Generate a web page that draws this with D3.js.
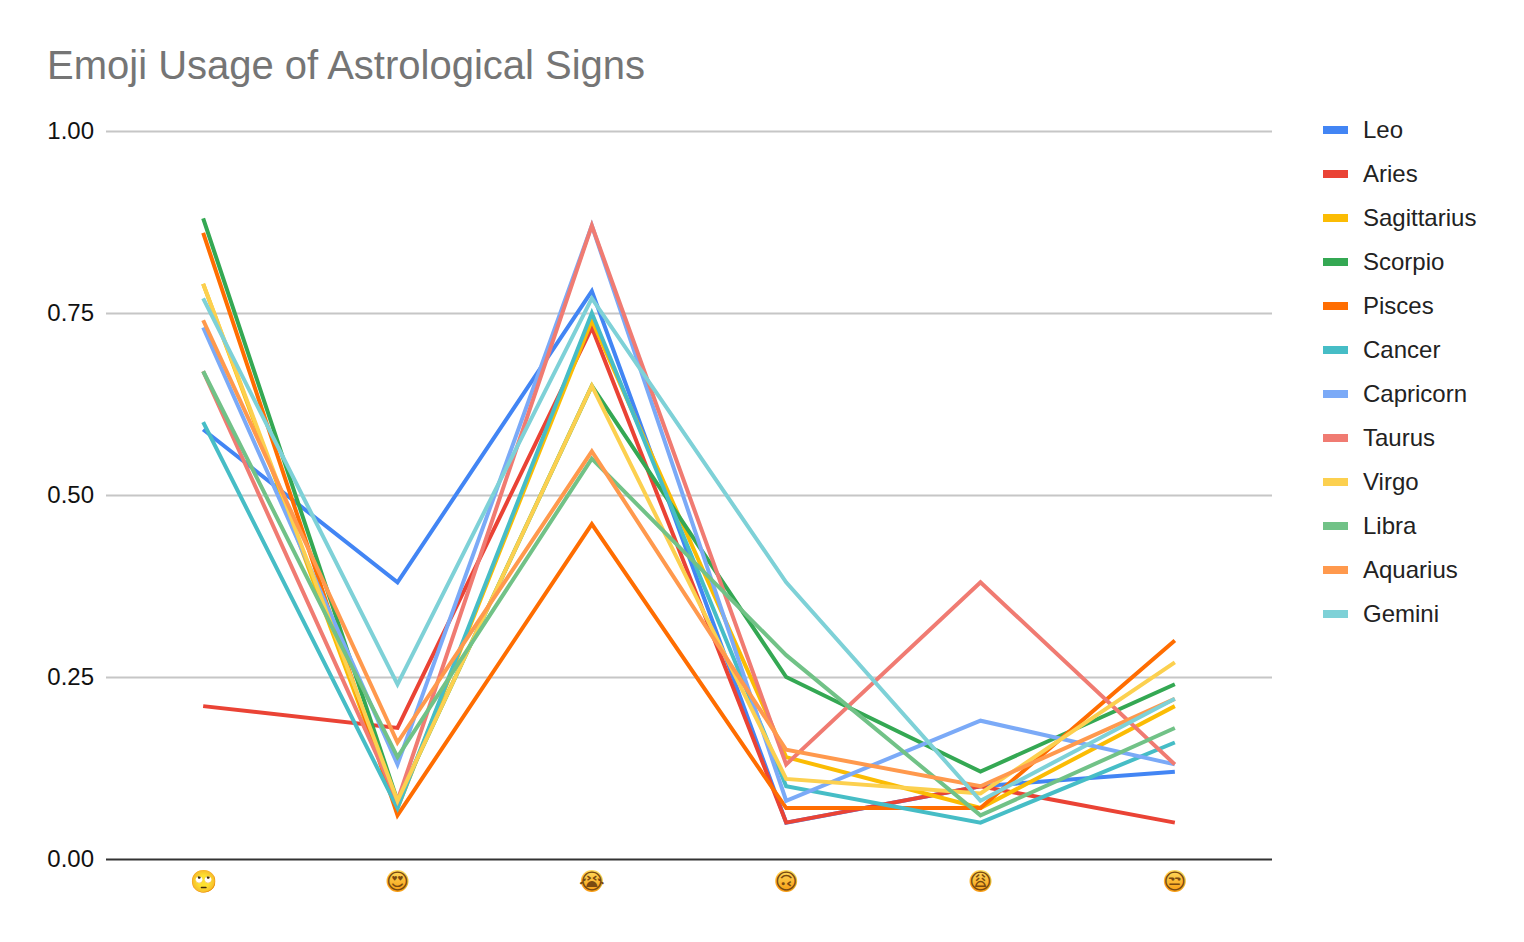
<!DOCTYPE html>
<html><head><meta charset="utf-8">
<script src="https://cdn.jsdelivr.net/npm/d3@7"></script>
<style>html,body{margin:0;background:#fff}svg{display:block}text{font-family:"Liberation Sans",Arial,sans-serif}</style>
</head><body><svg id="c" width="1524" height="942"></svg>
<script>
const categories=["🙄","😍","😭","🙃","😩","😒"];
const signs=["Leo","Aries","Sagittarius","Scorpio","Pisces","Cancer","Capricorn","Taurus","Virgo","Libra","Aquarius","Gemini"];
const colors=["#4285f4","#ea4335","#fbbc04","#34a853","#ff6d01","#46bdc6","#7baaf7","#f07b72","#fcd04f","#71c287","#ff994d","#7ed1d7"];
const leo=[.59,.38,.78,.05,.10,.12];
const aries=[.21,.18,.73,.05,.10,.05];
const sagittarius=[.79,.07,.74,.14,.07,.21];
const scorpio=[.88,.08,.65,.25,.12,.24];
const pisces=[.86,.06,.46,.07,.07,.30];
const cancer=[.60,.07,.75,.10,.05,.16];
const capricorn=[.73,.13,.87,.08,.19,.13];
const taurus=[.67,.08,.87,.13,.38,.13];
const virgo=[.79,.08,.65,.11,.09,.27];
const libra=[.67,.14,.55,.28,.06,.18];
const aquarius=[.74,.16,.56,.15,.10,.22];
const gemini=[.77,.24,.77,.38,.08,.22];
const seriesValues=[leo,aries,sagittarius,scorpio,pisces,cancer,capricorn,taurus,virgo,libra,aquarius,gemini];
const yTicks=[0,.25,.5,.75,1];

const svg=d3.select("#c");
const x=d3.scaleBand().domain(categories).range([106,1272]);
const y=d3.scaleLinear().domain([0,1]).range([859,131]);
const cx=c=>x(c)+x.bandwidth()/2;

svg.append("text").attr("x",47).attr("y",79).attr("font-size",40).attr("fill","#757575").text("Emoji Usage of Astrological Signs");

const ya=svg.append("g").attr("transform","translate(106,0)").call(d3.axisLeft(y).tickValues(yTicks).tickSize(-1166).tickPadding(12).tickFormat(d3.format(".2f")));
ya.select(".domain").remove();
ya.selectAll(".tick line").attr("stroke",d=>d===0?"#333":"#c6c6c6").attr("stroke-width",2);
ya.selectAll(".tick text").attr("font-size",24).attr("dy","0.3em").attr("fill","#111").attr("font-family",'"Liberation Sans",Arial,sans-serif');

const line=d3.line().x((d,i)=>cx(categories[i])).y(d=>y(d));
svg.append("g").selectAll("path").data(seriesValues).join("path")
  .attr("d",line).attr("fill","none").attr("stroke",(d,i)=>colors[i]).attr("stroke-width",4).attr("stroke-linejoin","miter");

const grad=svg.append("defs").append("linearGradient").attr("id","face").attr("x1",0).attr("x2",0).attr("y1",0).attr("y2",1);
grad.append("stop").attr("offset",0).attr("stop-color","#ffdc5e");
grad.append("stop").attr("offset",1).attr("stop-color","#f79a10");
const xa=svg.append("g").selectAll("g").data(categories).join("g").attr("transform",d=>`translate(${cx(d)},881)`);
xa.append("circle").attr("r",11).attr("fill","url(#face)");
xa.append("text").attr("text-anchor","middle").attr("y",8).attr("font-size",22).attr("fill","#7a4a10").style("font-family",'"DejaVu Sans"').text(d=>d);

const lg=svg.append("g").selectAll("g").data(signs).join("g").attr("transform",(d,i)=>`translate(1323,${130+44*i})`);
lg.append("rect").attr("y",-4).attr("width",25).attr("height",8).attr("fill",(d,i)=>colors[i]);
lg.append("text").attr("x",40).attr("y",8).attr("font-size",24).attr("fill","#222").text(d=>d);
</script></body></html>
